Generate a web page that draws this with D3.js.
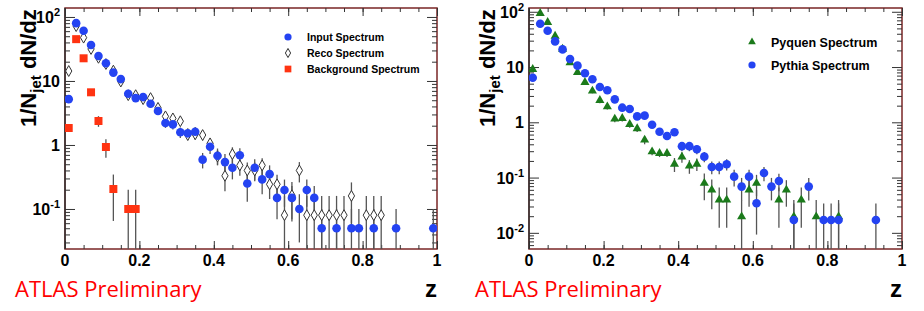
<!DOCTYPE html>
<html>
<head>
<meta charset="utf-8">
<script src="https://cdn.jsdelivr.net/npm/d3@7"></script>
<style>
  body { margin: 0; background: #fff; }
  svg { display: block; font-family: "Liberation Sans", Arial, sans-serif; }
</style>
</head>
<body>
<svg id="chart" width="924" height="311"></svg>
<script>
// ---- left panel: input / reco / background spectra ----
var inputZ = [0.01,0.03,0.05,0.07,0.09,0.11,0.13,0.15,0.17,0.19,0.21,0.23,0.25,0.27,0.29,0.31,0.33,0.35,0.37,0.39,
              0.41,0.43,0.45,0.47,0.49,0.51,0.53,0.55,0.57,0.59,0.61,0.63,0.65,0.67,0.69,0.73,0.77,0.79,0.83,0.89,0.99];
var inputY = [5.2,80,61,36.5,24.6,18.9,13.5,10.7,6.3,5.4,5.6,4.4,3.4,2.2,2.1,1.58,1.52,1.61,0.59,0.94,
              0.68,0.54,0.44,0.69,0.25,0.44,0.29,0.35,0.149,0.198,0.149,0.1,0.198,0.149,0.05,0.05,0.05,0.05,0.05,0.05,0.05];
var inputErr = [0.4,3,2.5,1.8,1.3,1.1,0.9,0.8,0.6,0.55,0.55,0.5,0.45,0.35,0.35,0.3,0.3,0.3,0.16,0.22,
                0.2,0.18,0.15,0.2,0.12,0.16,0.12,0.13,0.08,0.09,0.08,0.07,0.09,0.08,0.05,0.05,0.05,0.05,0.05,0.05,0.05];

var recoZ = [0.01,0.03,0.05,0.07,0.09,0.11,0.13,0.15,0.17,0.19,0.21,0.23,0.25,0.27,0.29,0.31,0.33,0.35,0.37,0.39,
             0.41,0.43,0.45,0.47,0.49,0.51,0.53,0.55,0.57,0.59,0.61,0.63,0.65,0.67,0.69,0.71,0.73,0.75,0.77,0.81,0.83,0.85];
var recoY = [14.3,72,47.5,31.6,23,18.4,14.5,9.8,6.0,6.0,5.2,5.4,3.8,2.8,2.6,2.35,1.43,1.47,1.43,1.06,
             0.66,0.33,0.72,0.48,0.40,0.40,0.48,0.243,0.243,0.08,0.164,0.40,0.08,0.08,0.08,0.08,0.08,0.08,0.16,0.08,0.08,0.08];
var recoErr = [0.8,3,2.5,1.8,1.5,1.2,1,0.8,0.6,0.6,0.55,0.55,0.45,0.35,0.35,0.3,0.25,0.25,0.25,0.2,
               0.17,0.14,0.2,0.15,0.13,0.13,0.14,0.1,0.1,0.08,0.1,0.14,0.08,0.08,0.08,0.08,0.08,0.08,0.1,0.08,0.08,0.08];

var bkgZ = [0.01,0.03,0.05,0.07,0.09,0.11,0.13,0.17,0.19];
var bkgY = [1.84,45,22.6,6.65,2.37,0.93,0.205,0.10,0.10];
var bkgErr = [0.25,1.5,1.2,0.7,0.45,0.3,0.14,0.1,0.1];

// ---- right panel: pyquen / pythia spectra ----
var pythiaZ = [0.01,0.03,0.05,0.07,0.09,0.11,0.13,0.15,0.17,0.19,0.21,0.23,0.25,0.27,0.29,0.31,0.33,0.35,0.37,0.39,
               0.41,0.43,0.45,0.47,0.49,0.51,0.53,0.55,0.57,0.59,0.61,0.63,0.65,0.67,0.71,0.75,0.79,0.81,0.83,0.93];
var pythiaY = [6.4,60.7,45.3,29.1,20.9,14.0,10.6,7.7,6.0,4.35,3.8,2.6,1.84,1.74,1.28,1.32,0.905,0.676,0.565,0.66,
               0.37,0.37,0.325,0.239,0.155,0.155,0.174,0.104,0.0686,0.104,0.0343,0.121,0.0686,0.0867,
               0.0171,0.0686,0.0171,0.0171,0.0171,0.0171];
var pythiaErr = [0.5,2.5,2,1.5,1.1,0.8,0.6,0.5,0.4,0.3,0.28,0.2,0.15,0.15,0.12,0.12,0.1,0.08,0.07,0.08,
                 0.07,0.07,0.06,0.05,0.04,0.04,0.04,0.035,0.03,0.035,0.025,0.035,0.03,0.03,
                 0.017,0.03,0.017,0.017,0.017,0.017];

var pyquenZ = [0.01,0.03,0.05,0.07,0.09,0.11,0.13,0.15,0.17,0.19,0.21,0.23,0.25,0.27,0.29,0.31,0.33,0.35,0.37,0.39,
               0.41,0.43,0.45,0.47,0.49,0.51,0.53,0.57,0.59,0.61,0.67,0.69,0.71,0.73,0.77,0.83];
var pyquenY = [9.1,93.6,64.3,36.4,21.1,12.0,8.0,5.3,3.7,2.5,1.92,1.15,1.18,0.92,0.77,0.48,0.294,0.275,0.275,0.176,
               0.236,0.162,0.176,0.079,0.0597,0.0394,0.0394,0.0196,0.0597,0.079,0.0394,0.0597,0.0196,0.0394,0.0196,0.0196];
var pyquenErr = [0.6,3,2.5,1.6,1.1,0.8,0.6,0.45,0.35,0.28,0.22,0.15,0.15,0.12,0.1,0.08,0.04,0.04,0.04,0.05,
                 0.05,0.045,0.045,0.04,0.033,0.027,0.027,0.0196,0.03,0.033,0.027,0.03,0.0196,0.027,0.0196,0.0196];

var xTicks = [0, 0.2, 0.4, 0.6, 0.8, 1];
var xTickLabels = ["0", "0.2", "0.4", "0.6", "0.8", "1"];

var blue = "#2443f2", red = "#ff3311", green = "#1b7a1b";

var svg = d3.select("#chart");

function makeSeries(zs, ys, es) {
    return zs.map(function(z, i) { return {z: z, v: ys[i], e: es[i]}; });
}

function drawPanel(p) {
    var x = d3.scaleLinear().domain([0, 1]).range([p.left, p.right]);
    var y = d3.scaleLog().domain(p.yDomain).range([p.bottom, p.top]);
    var g = svg.append("g");

    g.append("clipPath").attr("id", p.id + "clip")
      .append("rect")
        .attr("x", p.left).attr("y", p.top)
        .attr("width", p.right - p.left).attr("height", p.bottom - p.top);

    // frame
    g.append("rect")
        .attr("x", p.left).attr("y", p.top)
        .attr("width", p.right - p.left).attr("height", p.bottom - p.top)
        .style("fill", "none").style("stroke", "#7a2626").style("stroke-width", 1.5);

    // x ticks (bottom and top, pointing inward)
    var minorX = d3.range(0, 1.0001, 0.05);
    [[d3.axisBottom, p.bottom], [d3.axisTop, p.top]].forEach(function(a) {
        g.append("g").attr("transform", "translate(0," + a[1] + ")")
            .call(a[0](x).tickValues(minorX).tickSize(-4).tickFormat(""));
        g.append("g").attr("transform", "translate(0," + a[1] + ")")
            .call(a[0](x).tickValues(xTicks).tickSize(-8).tickFormat(""));
    });

    // y ticks on left and right
    var majors = [], minors = [];
    for (var e = -3; e <= 2; e++) {
        for (var k = 1; k <= 9; k++) {
            var v = k * Math.pow(10, e);
            if (v < p.yDomain[0] || v > p.yDomain[1]) continue;
            if (k === 1) majors.push(v); else minors.push(v);
        }
    }
    g.append("g").attr("transform", "translate(" + p.left + ",0)")
        .call(d3.axisLeft(y).tickValues(minors).tickSize(-5).tickFormat(""));
    g.append("g").attr("transform", "translate(" + p.left + ",0)")
        .call(d3.axisLeft(y).tickValues(majors).tickSize(-10).tickFormat(""));
    g.append("g").attr("transform", "translate(" + p.right + ",0)")
        .call(d3.axisRight(y).tickValues(minors).tickSize(-5).tickFormat(""));
    g.append("g").attr("transform", "translate(" + p.right + ",0)")
        .call(d3.axisRight(y).tickValues(majors).tickSize(-10).tickFormat(""));
    g.selectAll(".domain").remove();
    g.selectAll(".tick line").style("stroke", "#333");

    // left axis line
    g.append("line")
        .attr("x1", p.left).attr("x2", p.left).attr("y1", p.top).attr("y2", p.bottom)
        .style("stroke", "#333").style("stroke-width", 1.5);

    // x labels
    g.selectAll(".xlab").data(xTicks).enter().append("text")
        .attr("x", function(d) { return x(d); })
        .attr("y", p.bottom + 17)
        .style("text-anchor", "middle")
        .style("font-size", "16px").style("font-weight", "bold")
        .text(function(d, i) { return xTickLabels[i]; });

    // y labels with exponents
    majors.forEach(function(v) {
        var ex = Math.round(Math.log10(v));
        var t = g.append("text")
            .attr("x", p.left - 5).attr("y", y(v) + 6)
            .style("text-anchor", "end")
            .style("font-size", "16px").style("font-weight", "bold");
        if (ex === 0) t.text("1");
        else if (ex === 1) t.text("10");
        else {
            t.append("tspan").text("10");
            t.append("tspan").attr("dy", -7).style("font-size", "11px").text(ex < 0 ? "-" + (-ex) : ex);
        }
    });

    // axis titles
    var yt = g.append("text")
        .attr("transform", "translate(" + p.titleX + "," + (p.top + 119) + ") rotate(-90)")
        .style("font-size", "22px").style("font-weight", "bold");
    yt.append("tspan").text("1/N");
    yt.append("tspan").attr("dy", 5).style("font-size", "15px").text("jet");
    yt.append("tspan").attr("dy", -5).text(" dN/dz");

    g.append("text")
        .attr("x", p.right).attr("y", 297)
        .style("text-anchor", "end")
        .style("font-size", "24px").style("font-weight", "bold")
        .text("z");

    g.append("text")
        .attr("x", p.atlasX).attr("y", 297)
        .style("font-family", "'Open Sans', sans-serif")
        .style("font-size", "22px").style("fill", "#ff0000")
        .text("ATLAS Preliminary");

    // data (error bars first, then markers in drawing order)
    var plot = g.append("g").attr("clip-path", "url(#" + p.id + "clip)");
    p.series.forEach(function(s) {
        plot.selectAll(null).data(s.data).enter().append("line")
            .attr("x1", function(d) { return x(d.z); })
            .attr("x2", function(d) { return x(d.z); })
            .attr("y1", function(d) { return y(d.v + d.e); })
            .attr("y2", function(d) { return d.v - d.e > p.yDomain[0] ? y(d.v - d.e) : p.bottom + 5; })
            .style("stroke", "#555").style("stroke-width", 1.3);
    });
    p.series.forEach(function(s) {
        plot.selectAll(null).data(s.data).enter().append("path")
            .attr("transform", function(d) { return "translate(" + x(d.z) + "," + y(d.v) + ")"; })
            .attr("d", d3.symbol().type(s.symbol).size(s.size))
            .style("fill", s.fill).style("stroke", s.stroke).style("stroke-width", s.strokeWidth);
    });

    // legend
    p.legend.forEach(function(s, i) {
        var ly = p.legY + i * p.legStep;
        g.append("path")
            .attr("transform", "translate(" + p.legX + "," + ly + ")")
            .attr("d", d3.symbol().type(s.symbol).size(s.size * 0.7))
            .style("fill", s.fill).style("stroke", s.stroke).style("stroke-width", s.strokeWidth);
        g.append("text")
            .attr("x", p.legX + 19).attr("y", ly + p.legFont * 0.37)
            .style("font-size", p.legFont + "px").style("font-weight", "bold")
            .text(s.name);
    });
}

var inputSeries = {name: "Input Spectrum", data: makeSeries(inputZ, inputY, inputErr),
    symbol: d3.symbolCircle, size: 58, fill: blue, stroke: "none", strokeWidth: 0};
var recoSeries = {name: "Reco Spectrum", data: makeSeries(recoZ, recoY, recoErr),
    symbol: d3.symbolDiamond, size: 34, fill: "#fff", stroke: "#333", strokeWidth: 1};
var bkgSeries = {name: "Background Spectrum", data: makeSeries(bkgZ, bkgY, bkgErr),
    symbol: d3.symbolSquare, size: 64, fill: red, stroke: "none", strokeWidth: 0};

drawPanel({
    id: "left", left: 65, right: 437, top: 8, bottom: 249,
    yDomain: [0.0237, 138], titleX: 36, atlasX: 15,
    legX: 288, legY: 37, legStep: 16, legFont: 10.5,
    series: [recoSeries, inputSeries, bkgSeries],
    legend: [inputSeries, recoSeries, bkgSeries]
});

var pyquenSeries = {name: "Pyquen Spectrum", data: makeSeries(pyquenZ, pyquenY, pyquenErr),
    symbol: d3.symbolTriangle, size: 36, fill: green, stroke: "none", strokeWidth: 0};
var pythiaSeries = {name: "Pythia Spectrum", data: makeSeries(pythiaZ, pythiaY, pythiaErr),
    symbol: d3.symbolCircle, size: 58, fill: blue, stroke: "none", strokeWidth: 0};

drawPanel({
    id: "right", left: 529, right: 902, top: 8, bottom: 249,
    yDomain: [0.0051, 117], titleX: 495, atlasX: 475,
    legX: 752, legY: 42, legStep: 23, legFont: 12.5,
    series: [pyquenSeries, pythiaSeries],
    legend: [pyquenSeries, pythiaSeries]
});
</script>
</body>
</html>
